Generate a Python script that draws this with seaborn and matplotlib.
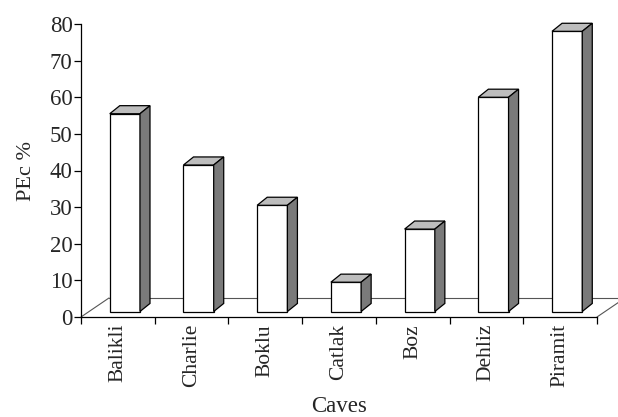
import matplotlib
matplotlib.use("Agg")
import matplotlib.pyplot as plt
from matplotlib.patches import Polygon
import seaborn as sns
import numpy as np
import pandas as pd

caves = ["Balikli", "Charlie", "Boklu", "Catlak", "Boz", "Dehliz", "Piramit"]
pec = [54, 40, 29, 8, 22.5, 58.5, 76.5]
yticks = [0, 10, 20, 30, 40, 50, 60, 70, 80]

sns.set_theme(style="white")
plt.rcParams['font.family'] = ['Liberation Serif', 'DejaVu Serif']

fig = plt.figure(figsize=(6.18, 4.17), dpi=100)
ax = fig.add_axes([81/618, 100/417, (597-81)/618, (317-24)/417])

df = pd.DataFrame({"Caves": caves, "PEc": pec})
sns.barplot(data=df, x="Caves", y="PEc", color="white", saturation=1,
            edgecolor="black", linewidth=0.9, width=0.41, ax=ax, zorder=3)

# depth geometry (data units)
off_x, off_y = 0.095, 1.5      # bar position within floor depth
dep_x, dep_y = 0.136, 2.2      # bar depth
fl_x, fl_y = 0.38, 5.2         # floor depth

for p in list(ax.patches):
    x0, w, h = p.get_x(), p.get_width(), p.get_height()
    x0s, y0s = x0 + off_x, off_y
    p.set_x(x0s)
    p.set_y(y0s)
    p.set_clip_on(False)
    top = [(x0s, y0s + h), (x0s + w, y0s + h), (x0s + w + dep_x, y0s + h + dep_y), (x0s + dep_x, y0s + h + dep_y)]
    side = [(x0s + w, y0s), (x0s + w + dep_x, y0s + dep_y), (x0s + w + dep_x, y0s + h + dep_y), (x0s + w, y0s + h)]
    ax.add_patch(Polygon(top, closed=True, facecolor="#bdbdbd", edgecolor="black", linewidth=0.9, zorder=3, clip_on=False))
    ax.add_patch(Polygon(side, closed=True, facecolor="#7a7a7a", edgecolor="black", linewidth=0.9, zorder=3, clip_on=False))

n = len(caves)
xl, xr = -0.5, n - 0.5
floor_kw = dict(color="#555555", linewidth=0.8, clip_on=False, zorder=1)
ax.plot([xl + fl_x, xr + fl_x], [fl_y, fl_y], **floor_kw)
ax.plot([xl, xl + fl_x], [0, fl_y], **floor_kw)
ax.plot([xr, xr + fl_x], [0, fl_y], **floor_kw)

ax.set_xlim(xl, xr)
ax.set_ylim(0, 80)
ax.set_yticks(yticks)
ax.set_yticklabels([str(v) for v in yticks], fontsize=16.5)
ax.set_xticks(range(n))
ax.set_xticklabels(caves, rotation=90, fontsize=15.5)
ax.set_xticks(np.arange(n + 1) - 0.5, minor=True)
ax.tick_params(axis="x", which="major", length=0, pad=5)
ax.tick_params(axis="x", which="minor", length=5, width=0.9, direction="out", color="black", bottom=True)
ax.tick_params(axis="y", length=5, width=0.9, direction="out", color="black", left=True, pad=1)

for s in ["top", "right"]:
    ax.spines[s].set_visible(False)
for s in ["left", "bottom"]:
    ax.spines[s].set_color("black")
    ax.spines[s].set_linewidth(0.9)

ax.set_xlabel("Caves", fontsize=16.5, labelpad=6)
ax.set_ylabel("PEc %", fontsize=16, labelpad=10)
ax.grid(False)

fig.savefig("out.png", dpi=100, facecolor="white")
